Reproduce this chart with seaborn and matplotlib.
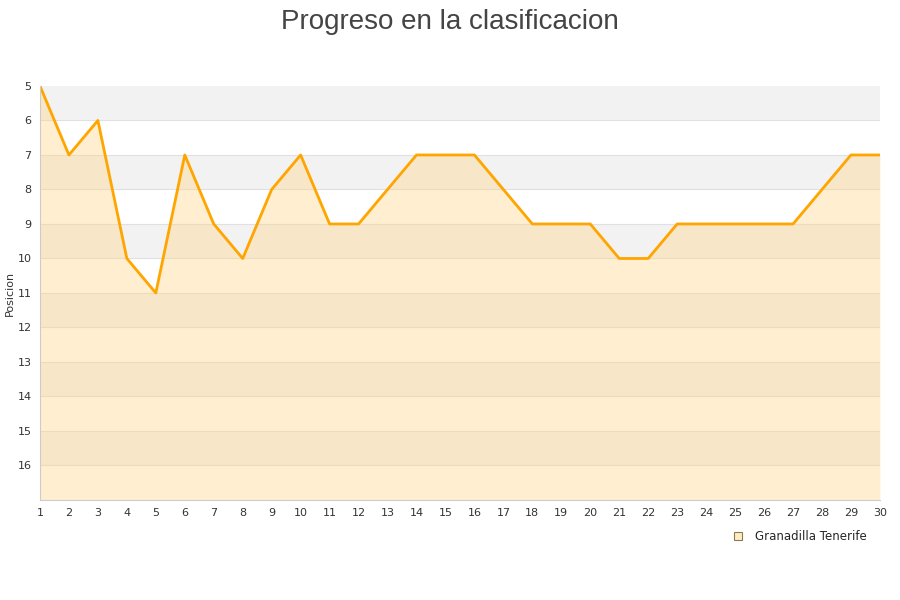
import pandas as pd
import seaborn as sns
import matplotlib
matplotlib.use("Agg")
from matplotlib import pyplot as plt
from matplotlib.lines import Line2D

# data
jornadas = list(range(1, 31))
posiciones = [5, 7, 6, 10, 11, 7, 9, 10, 8, 7, 9, 9, 8, 7, 7, 7, 8, 9, 9, 9,
              10, 10, 9, 9, 9, 9, 9, 8, 7, 7]
equipo = "Granadilla Tenerife"
y_ticks = list(range(5, 17))

df = pd.DataFrame({"Jornada": jornadas, "Posicion": posiciones})

sns.set_style("white")
plt.rcParams['font.family'] = ['DejaVu Sans']

fig = plt.figure(figsize=(9, 6), dpi=100)
ax = fig.add_axes([0.0444, 0.1667, 0.9333, 0.69])

# alternating bands
for y in range(5, 17, 2):
    ax.axhspan(y, y + 1, color="#f2f2f2", zorder=0, lw=0)
for y in range(6, 18):
    ax.axhline(y, color="#e0e0e0", lw=0.8, zorder=0.5)

# area under the line
ax.fill_between(df["Jornada"], df["Posicion"], 17, color="#ffd68a", alpha=0.4,
                lw=0, zorder=1)
sns.lineplot(x="Jornada", y="Posicion", data=df, ax=ax, color="#ffa500",
             linewidth=2, zorder=2)

ax.set_xlim(1, 30)
ax.set_ylim(17, 5)
ax.set_xticks(jornadas)
ax.set_yticks(y_ticks)
ax.tick_params(axis="both", labelsize=8, colors="#333333", length=0)
ax.tick_params(axis="x", pad=6)
ax.tick_params(axis="y", pad=6)
ax.set_xlabel("")
ax.set_ylabel("Posicion", fontsize=8, color="#333333", labelpad=2)
for name, sp in ax.spines.items():
    sp.set_color("#cccccc")
    sp.set_linewidth(0.8)
ax.spines["top"].set_visible(False)
ax.spines["right"].set_visible(False)

fig.suptitle("Progreso en la clasificacion", fontsize=20, color="#444444",
             y=0.985, family=["Liberation Sans", "DejaVu Sans"])

handle = Line2D([], [], marker="s", linestyle="none", markersize=6,
                markerfacecolor="#ffecc0", markeredgecolor="#8a7a55", markeredgewidth=0.8)
fig.legend([handle], [equipo], loc="center", bbox_to_anchor=(0.885, 0.105),
           frameon=False, fontsize=8.5, handletextpad=0.4)

fig.savefig("out.png", dpi=100)
